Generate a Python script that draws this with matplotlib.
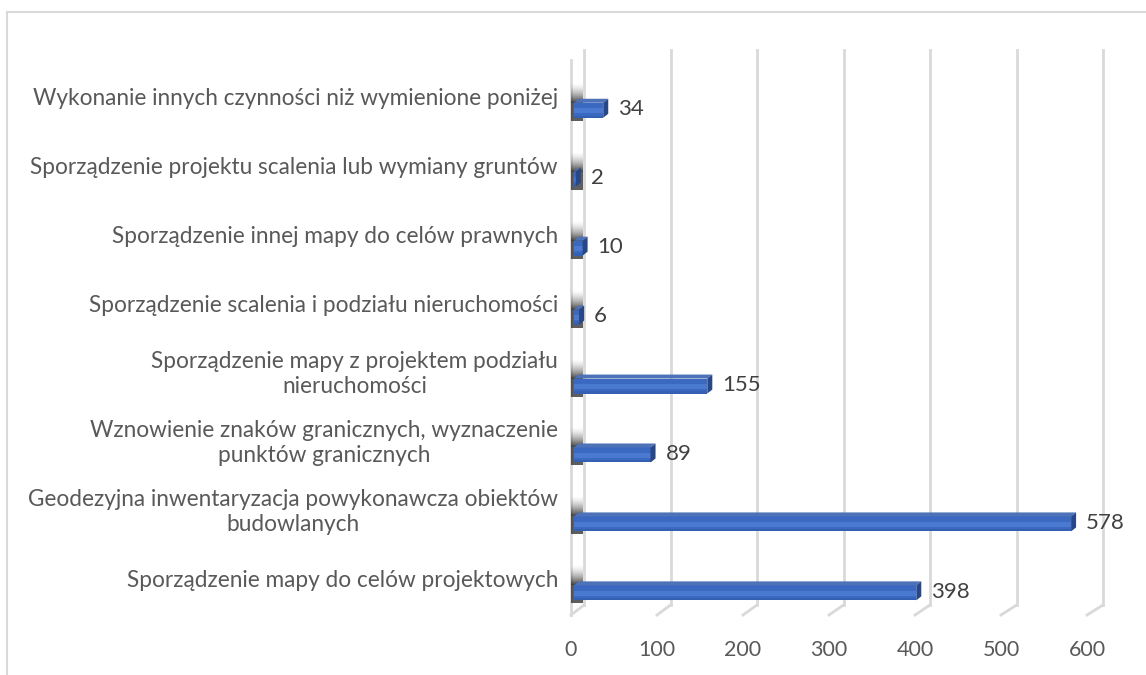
import matplotlib.pyplot as plt
from matplotlib.patches import Polygon, Rectangle
import numpy as np

# dane
categories = [
    "Sporządzenie mapy do celów projektowych",
    "Geodezyjna inwentaryzacja powykonawcza obiektów\nbudowlanych",
    "Wznowienie znaków granicznych, wyznaczenie\npunktów granicznych",
    "Sporządzenie mapy z projektem podziału\nnieruchomości",
    "Sporządzenie scalenia i podziału nieruchomości",
    "Sporządzenie innej mapy do celów prawnych",
    "Sporządzenie projektu scalenia lub wymiany gruntów",
    "Wykonanie innych czynności niż wymienione poniżej",
]
values = [398, 578, 89, 155, 6, 10, 2, 34]
xticks = [0, 100, 200, 300, 400, 500, 600]

W, H = 1146, 675
fig = plt.figure(figsize=(W / 100, H / 100), dpi=100)

# ramka wykresu
fig.add_artist(plt.Line2D([7 / W, 7 / W], [0, 1 - 12 / H], color="#d9d9d9", lw=1.5))
fig.add_artist(plt.Line2D([7 / W, 1], [1 - 12 / H, 1 - 12 / H], color="#d9d9d9", lw=1.5))

# osie: przednia plaszczyzna
x0, x1 = 571, 1087
ytop, ybot = 40, 615
ax = fig.add_axes([x0 / W, 1 - ybot / H, (x1 - x0) / W, (ybot - ytop) / H])
ylo, yhi = -0.35, 7.99
ax.set_xlim(0, 600)
ax.set_ylim(ylo, yhi)
ax.axis("off")

pxx = (x1 - x0) / 600.0
pxy = (ybot - ytop) / (yhi - ylo)
def dx(p):
    return p / pxx
def dy(p):
    return p / pxy

grid = "#d9d9d9"
# linie siatki (tylna sciana + podloga)
for t in xticks:
    off = 13 + 3 * t / 600
    xb = t + dx(off)
    ax.plot([xb, xb], [ylo + dy(10), ylo + dy(ybot - 50)], color=grid, lw=2,
            clip_on=False, zorder=1)
    ax.plot([t, xb], [ylo, ylo + dy(10)], color=grid, lw=2, clip_on=False, zorder=1)
    ax.text(t, ylo - dy(35), str(t), ha="center", va="center", fontsize=15.5,
            color="#595959", family="Lato")

# lewa sciana
ax.plot([0, 0], [ylo, ylo + dy(ybot - 60)], color=grid, lw=2, clip_on=False, zorder=1)
ys = np.arange(len(values))
bh = dy(15)
for y in ys:
    top = y + bh / 2 - dy(2)
    n = 20
    for k in range(n):
        a = 0.8 * (1 - k / n) ** 1.6
        ax.add_patch(Rectangle((-dx(1), top + dy(k)), dx(13), dy(1),
                               color="#1a1a1a", alpha=a, lw=0, zorder=2))
    ax.add_patch(Rectangle((-dx(1), top - bh - dy(3)), dx(13), bh + dy(3),
                           color="#1a1a1a", alpha=0.7, lw=0, zorder=2))

# slupki 3D
d_x, d_y = dx(5), dy(4)
for y, v in zip(ys, values):
    x_start = dx(3)
    xe = v + dx(3)
    b = y - bh / 2 - dy(2)
    ax.add_patch(Rectangle((x_start, b), xe - x_start, bh, color="#3b68c0", lw=0, zorder=3))
    ax.add_patch(Rectangle((x_start, b + bh * 0.3), xe - x_start, bh * 0.35,
                           color="#4a7ad0", lw=0, zorder=3))
    ax.add_patch(Rectangle((x_start, b), xe - x_start, bh * 0.15,
                           color="#3460b4", lw=0, zorder=3))
    ax.add_patch(Polygon([(x_start, b + bh), (xe, b + bh), (xe + d_x, b + bh + d_y),
                          (x_start + d_x, b + bh + d_y)], closed=True,
                         color="#4d72b8", lw=0, zorder=3))
    ax.add_patch(Polygon([(xe, b), (xe, b + bh), (xe + d_x, b + bh + d_y),
                          (xe + d_x, b + d_y)], closed=True,
                         color="#26478a", lw=0, zorder=3))
    ax.text(xe + d_x + dx(10), y - dy(1), str(v), ha="left", va="center",
            fontsize=16, color="#404040", family="Lato", zorder=4)

# etykiety kategorii
for y, c in zip(ys, categories):
    ax.text(-dx(13), y + dy(10), c, ha="right", va="center", multialignment="center",
            fontsize=16.3, color="#595959", family="Lato", linespacing=1.2)

fig.savefig("out.png", dpi=100)
